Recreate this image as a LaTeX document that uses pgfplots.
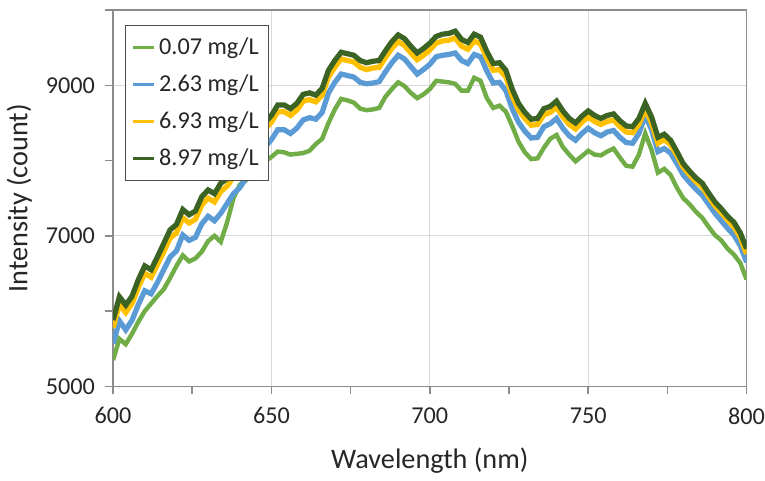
\documentclass[border=0pt]{standalone}
\usepackage{fontspec}
\setmainfont{Carlito}
\usepackage{pgfplots}
\usepackage{pgfplotstable}
\pgfplotsset{compat=1.18}

\definecolor{cLow}{HTML}{70AD47}
\definecolor{cBlue}{HTML}{5B9BD5}
\definecolor{cGold}{HTML}{FFC000}
\definecolor{cDark}{HTML}{3B6323}
\definecolor{gridc}{HTML}{D9D9D9}
\definecolor{axc}{HTML}{8C8C8C}

% wavelength (nm), intensity for 0.07, 2.63, 6.93, 8.97 mg/L
\pgfplotstableread{
wl   g    b    y    d
600 5350 5570 5780 5880
602 5630 5870 6090 6190
604 5560 5750 5980 6080
606 5700 5880 6100 6200
608 5860 6090 6320 6420
610 6000 6270 6500 6600
612 6100 6230 6450 6550
614 6200 6380 6620 6720
616 6290 6550 6790 6900
618 6440 6720 6970 7080
620 6600 6800 7040 7150
622 6740 7010 7240 7350
624 6660 6940 7170 7280
626 6700 6980 7220 7330
628 6790 7160 7410 7520
630 6930 7260 7500 7610
632 7000 7200 7450 7560
634 6920 7300 7590 7700
636 7180 7430 7660 7760
638 7500 7560 7780 7880
640 7680 7640 7870 7960
642 7740 7770 8010 8100
644 7820 7920 8170 8260
646 7900 8070 8310 8400
648 7990 8180 8420 8510
650 8050 8280 8510 8600
652 8120 8410 8650 8740
654 8110 8410 8650 8740
656 8080 8360 8600 8690
658 8090 8430 8670 8760
660 8100 8540 8790 8880
662 8130 8570 8810 8900
664 8220 8550 8780 8870
666 8290 8640 8870 8960
668 8500 8900 9110 9200
670 8680 9040 9240 9330
672 8820 9150 9350 9440
674 8800 9130 9330 9420
676 8770 9110 9310 9400
678 8690 9040 9240 9330
680 8670 9020 9210 9300
682 8680 9030 9230 9320
684 8700 9050 9240 9330
686 8850 9180 9370 9460
688 8950 9300 9490 9580
690 9040 9400 9580 9670
692 8990 9350 9530 9620
694 8900 9250 9430 9520
696 8830 9150 9340 9430
698 8880 9210 9400 9490
700 8950 9280 9470 9560
702 9060 9380 9560 9650
704 9050 9400 9590 9680
706 9040 9410 9600 9690
708 9020 9430 9630 9720
710 8930 9330 9520 9610
712 8930 9290 9480 9570
714 9100 9410 9590 9680
716 9060 9380 9550 9640
718 8830 9190 9360 9450
720 8700 9030 9200 9290
722 8730 9040 9210 9300
724 8650 8930 9110 9200
726 8460 8690 8860 8950
728 8250 8510 8670 8760
730 8110 8390 8560 8640
732 8020 8300 8470 8550
734 8030 8310 8480 8560
736 8170 8450 8610 8690
738 8290 8490 8640 8720
740 8340 8560 8710 8790
742 8180 8430 8580 8660
744 8080 8330 8480 8560
746 7990 8270 8420 8500
748 8060 8360 8510 8590
750 8130 8430 8580 8660
752 8080 8370 8520 8600
754 8070 8330 8480 8560
756 8120 8380 8520 8600
758 8160 8400 8540 8620
760 8040 8310 8450 8530
762 7930 8240 8380 8460
764 7920 8230 8370 8450
766 8080 8360 8480 8560
768 8360 8600 8680 8760
770 8140 8410 8500 8580
772 7840 8120 8230 8310
774 7890 8160 8280 8350
776 7810 8100 8210 8270
778 7640 7960 8070 8120
780 7500 7810 7910 7960
782 7420 7710 7810 7860
784 7320 7620 7720 7770
786 7240 7540 7650 7700
788 7120 7420 7520 7570
790 7010 7300 7400 7450
792 6940 7200 7310 7360
794 6830 7100 7210 7260
796 6750 7010 7120 7180
798 6640 6870 6980 7040
800 6420 6650 6760 6830
}\spec

\begin{document}
\begin{tikzpicture}
\begin{axis}[
    scale only axis,
    width=314pt, height=186.5pt,
    xmin=600, xmax=800,
    ymin=5000, ymax=10000,
    xtick={600,650,...,800},
    minor xtick={625,675,725,775},
    ytick={5000,7000,9000},
    minor ytick={6000,8000,10000},
    scaled y ticks=false,
    tick pos=left,
    xmajorgrids, ymajorgrids,
    major grid style={gridc, line width=0.6pt},
    axis line style={axc, line width=0.8pt},
    tick style={axc, line width=0.8pt},
    tick align=outside,
    major tick length=4pt,
    minor tick length=4pt,
    every tick label/.append style={font=\fontsize{12}{14}\selectfont, text=black!85},
    xticklabel style={yshift=-3pt, inner xsep=0pt},
    yticklabel style={xshift=-1.5pt},
    /pgf/number format/assume math mode=true,
    /pgf/number format/1000 sep={},
    xlabel={Wavelength (nm)},
    ylabel={Intensity (count)},
    label style={font=\fontsize{14}{16}\selectfont, text=black!85},
    xlabel style={yshift=-5pt},
    ylabel style={yshift=0pt},
    legend cell align=left,
    legend style={
        at={(0.019,0.96)}, anchor=north west,
        draw=black!70, line width=0.6pt,
        font=\fontsize{12}{14}\selectfont,
        row sep=4.5pt, inner xsep=3pt, inner ysep=4pt,
        text=black!85,
    },
    legend image code/.code={\draw[#1, line width=1.6pt] (0pt,0pt) -- (10pt,0pt);},
]
\addplot[cLow, line width=2.2pt] table[x=wl, y=g] {\spec};
\addlegendentry{0.07 mg/L}
\addplot[cBlue, line width=2.6pt] table[x=wl, y=b] {\spec};
\addlegendentry{2.63 mg/L}
\addplot[cGold, line width=2.6pt] table[x=wl, y=y] {\spec};
\addlegendentry{6.93 mg/L}
\addplot[cDark, line width=2.6pt] table[x=wl, y=d] {\spec};
\addlegendentry{8.97 mg/L}
\coordinate (tr) at (rel axis cs:1,1);
\end{axis}
\path ([yshift=5pt]tr);
\end{tikzpicture}
\end{document}
